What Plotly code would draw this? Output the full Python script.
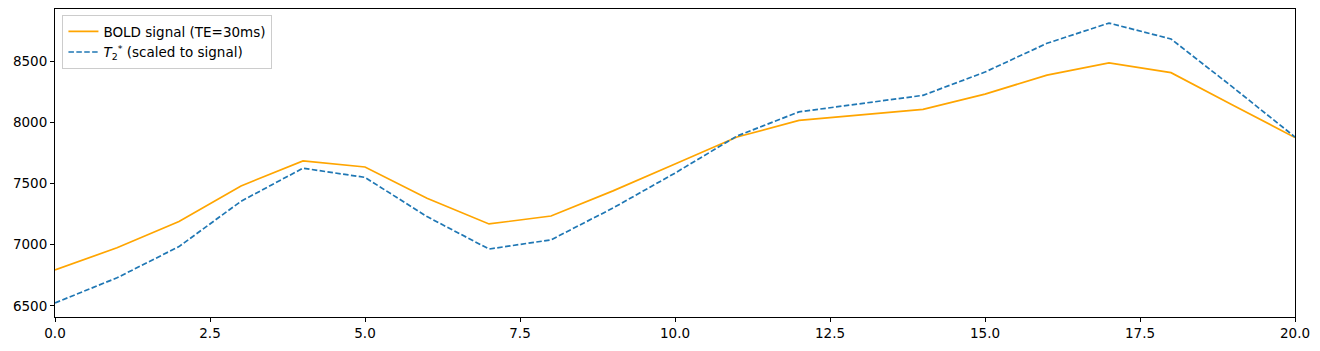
import plotly.graph_objects as go

x = list(range(21))
bold_signal = [6795, 6975, 7190, 7480, 7685, 7635, 7380, 7170, 7235, 7440, 7660,
               7880, 8015, 8060, 8105, 8230, 8385, 8485, 8405, 8140, 7875]
t2star_scaled = [6525, 6730, 6985, 7355, 7625, 7550, 7230, 6965, 7040, 7300, 7585,
                 7888, 8085, 8150, 8220, 8410, 8645, 8810, 8680, 8285, 7880]

x_ticks = [0, 2.5, 5, 7.5, 10, 12.5, 15, 17.5, 20]
x_tick_labels = ["0.0", "2.5", "5.0", "7.5", "10.0", "12.5", "15.0", "17.5", "20.0"]
y_ticks = [6500, 7000, 7500, 8000, 8500]

fig = go.Figure()
fig.add_trace(go.Scatter(x=x, y=bold_signal, mode="lines", name="BOLD signal (TE=30ms)",
                         line=dict(color="orange", width=1.7)))
fig.add_trace(go.Scatter(x=x, y=t2star_scaled, mode="lines",
                         name="<i>T</i><sub>2</sub><sup>*</sup> (scaled to signal)",
                         line=dict(color="#1f77b4", width=1.7, dash="5.5px,2.4px")))

axis_common = dict(showgrid=False, zeroline=False, showline=True, linecolor="black",
                   linewidth=1, mirror=True, ticks="outside", ticklen=4, tickcolor="black",
                   tickfont=dict(family="DejaVu Sans", size=13.5, color="black"))
fig.update_xaxes(range=[0, 20], tickvals=x_ticks, ticktext=x_tick_labels, **axis_common)
fig.update_yaxes(range=[6410, 8925], tickvals=y_ticks, **axis_common)

fig.update_layout(
    width=1304, height=335,
    margin=dict(l=47, r=17, t=1, b=26),
    plot_bgcolor="white", paper_bgcolor="white",
    font=dict(family="DejaVu Sans", size=13.5, color="black"),
    legend=dict(x=0.006, y=0.98, xanchor="left", yanchor="top",
                bordercolor="#cccccc", borderwidth=1, bgcolor="rgba(255,255,255,0.8)",
                font=dict(family="DejaVu Sans", size=13.5)),
)

fig.write_html("out.html")
